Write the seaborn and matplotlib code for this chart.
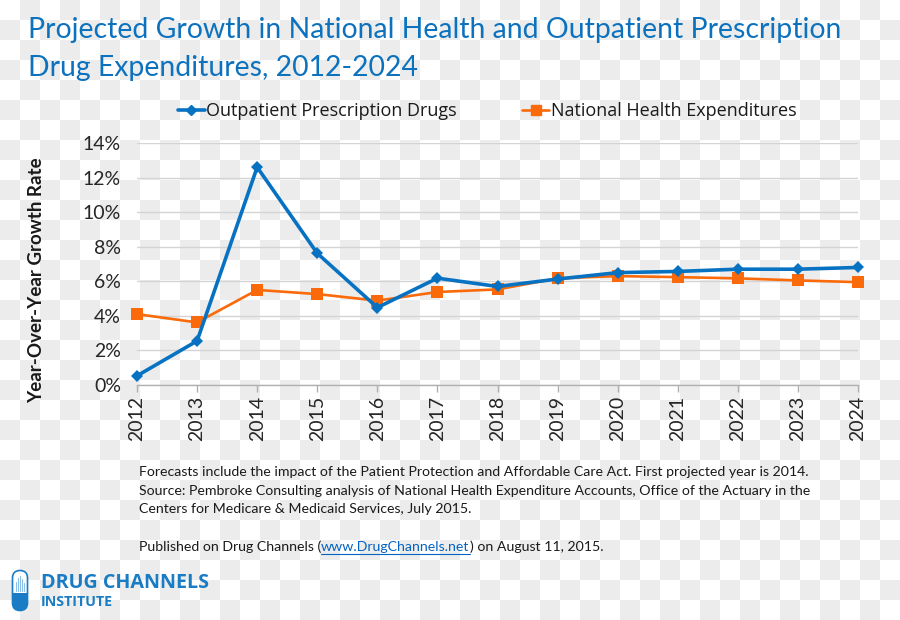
import numpy as np
import pandas as pd
import matplotlib
matplotlib.use("Agg")
import matplotlib.pyplot as plt
import seaborn as sns
from matplotlib.patches import FancyBboxPatch, Rectangle
from matplotlib.lines import Line2D

# ---------------- data ----------------
years = [2012, 2013, 2014, 2015, 2016, 2017, 2018, 2019, 2020, 2021, 2022, 2023, 2024]
rx_drugs = [0.53, 2.55, 12.6, 7.62, 4.48, 6.18, 5.7, 6.13, 6.5, 6.57, 6.7, 6.7, 6.8]
national_health = [4.1, 3.62, 5.5, 5.26, 4.88, 5.38, 5.53, 6.17, 6.3, 6.24, 6.17, 6.05, 5.95]
series_names = ["Outpatient Prescription Drugs", "National Health Expenditures"]
y_ticks = [0, 2, 4, 6, 8, 10, 12, 14]
y_tick_labels = ["0%", "2%", "4%", "6%", "8%", "10%", "12%", "14%"]

title_lines = ["Projected Growth in National Health and Outpatient Prescription",
               "Drug Expenditures, 2012-2024"]
y_label = "Year-Over-Year Growth Rate"
notes = ["Forecasts include the impact of the Patient Protection and Affordable Care Act. First projected year is 2014.",
         "Source: Pembroke Consulting analysis of National Health Expenditure Accounts, Office of the Actuary in the",
         "Centers for Medicare & Medicaid Services, July 2015."]
pub_parts = ["Published on Drug Channels (", "www.DrugChannels.net", ") on August 11, 2015."]

df = pd.DataFrame({
    "year": years * 2,
    "rate": rx_drugs + national_health,
    "series": [series_names[0]] * len(years) + [series_names[1]] * len(years),
})

BLUE = "#0872C2"
ORANGE = "#FA6A0A"
TITLE_BLUE = "#0D72BE"

sns.set_theme(style="white")
plt.rcParams["font.family"] = ["Lato", "DejaVu Sans"]

W, H = 900, 620
fig = plt.figure(figsize=(9, 6.2), dpi=100)
fig.patch.set_facecolor("white")

# checkerboard background (transparent-image look)
yy, xx = np.mgrid[0:H, 0:W]
chk = (((xx // 20) + (yy // 20)) % 2 == 1)
bg = np.ones((H, W, 3))
bg[chk] = np.array([236, 236, 236]) / 255.0
fig.figimage(bg, xo=0, yo=0, origin="upper", zorder=-10)

def fx(px):
    return px / W

def fy(py):
    return 1 - py / H

ax = fig.add_axes([fx(137), fy(385), fx(858) - fx(137), fy(143) - fy(385)])
ax.set_facecolor("none")

d1 = df[df["series"] == series_names[0]]
d2 = df[df["series"] == series_names[1]]
sns.lineplot(data=d2, x="year", y="rate", ax=ax, color=ORANGE, linewidth=1.9,
             marker="s", markersize=8, markeredgewidth=0, clip_on=False, zorder=3)
sns.lineplot(data=d1, x="year", y="rate", ax=ax, color=BLUE, linewidth=2.6,
             marker="D", markersize=6.5, markeredgewidth=0, clip_on=False, zorder=4)

ax.set_xlim(2012, 2024)
ax.set_ylim(0, 14)
ax.set_xticks(years)
ax.set_xticklabels([str(y) for y in years], rotation=90, fontsize=14, color="#262626")
ax.set_yticks(y_ticks)
ax.set_yticklabels(y_tick_labels, fontsize=14, color="#262626")
ax.set_xlabel("")
ax.set_ylabel(y_label, fontsize=13.5, fontweight="bold", color="#1a1a1a")
ax.yaxis.grid(True, color="#D4D4D4", linewidth=1.0)
ax.xaxis.grid(False)
for s in ["left", "right", "top"]:
    ax.spines[s].set_visible(False)
ax.spines["bottom"].set_color("#B0B0B0")
ax.spines["bottom"].set_linewidth(1.0)
ax.tick_params(axis="x", which="major", bottom=True, length=5, width=1, color="#B0B0B0", pad=3)
ax.tick_params(axis="y", which="major", left=False, pad=5.5)
ax.yaxis.set_label_coords(-0.127, 0.434)

handles = [Line2D([], [], color=BLUE, lw=2.6, marker="D", markersize=5),
           Line2D([], [], color=ORANGE, lw=1.9, marker="s", markersize=7)]
fig.legend(handles, series_names, loc="center", bbox_to_anchor=(fx(487), fy(111)),
           ncol=2, frameon=False, prop={"family": "Open Sans", "size": 13},
           handlelength=1.5, handletextpad=0.08, columnspacing=3.6, labelcolor="#1a1a1a")

# title
fig.text(fx(28), fy(38), title_lines[0], fontsize=20.4, color=TITLE_BLUE, va="baseline", ha="left")
fig.text(fx(28), fy(76), title_lines[1], fontsize=20.4, color=TITLE_BLUE, va="baseline", ha="left")

# notes
note_base = [476, 495, 513]
for t, b in zip(notes, note_base):
    fig.text(fx(139), fy(b), t, fontsize=10.2, color="#1a1a1a", va="baseline", ha="left")

fig.canvas.draw()
renderer = fig.canvas.get_renderer()
x_cur = 139
for i, part in enumerate(pub_parts):
    col = "#0563C1" if i == 1 else "#1a1a1a"
    t = fig.text(fx(x_cur), fy(551), part, fontsize=10.2, color=col, va="baseline", ha="left")
    bb = t.get_window_extent(renderer)
    if i == 1:
        fig.add_artist(Line2D([fx(x_cur), fx(x_cur + bb.width)], [fy(553.5), fy(553.5)],
                              color=col, lw=0.8, transform=fig.transFigure))
    x_cur += bb.width

# logo
lax = fig.add_axes([fx(11), fy(612), fx(29) - fx(11), fy(569) - fy(612)])
lax.set_xlim(0, 18)
lax.set_ylim(0, 43)
lax.axis("off")
cap = FancyBboxPatch((1.5, 1.5), 15, 40, boxstyle="round,pad=0,rounding_size=7.5",
                     facecolor="white", edgecolor="#1A7CC4", linewidth=1.2)
lax.add_patch(cap)
low = Rectangle((0, 0), 18, 19, facecolor="#1A7CC4", edgecolor="none")
lax.add_patch(low)
low.set_clip_path(cap)
for xv, top in zip([5, 7, 9, 11, 13], [30, 34, 36, 33, 29]):
    ln = Line2D([xv, xv], [21, top], color="#8BC1E8", lw=0.8)
    lax.add_line(ln)
fig.text(fx(41), fy(588), "DRUG CHANNELS", fontsize=14.2, fontweight="bold",
         family=["Open Sans", "DejaVu Sans"], color="#1A7CC4", va="baseline", ha="left")
fig.text(fx(41), fy(606), "INSTITUTE", fontsize=10.3, fontweight="bold",
         family=["Open Sans", "DejaVu Sans"], color="#1A7CC4", va="baseline", ha="left")

fig.savefig("out.png", dpi=100)
